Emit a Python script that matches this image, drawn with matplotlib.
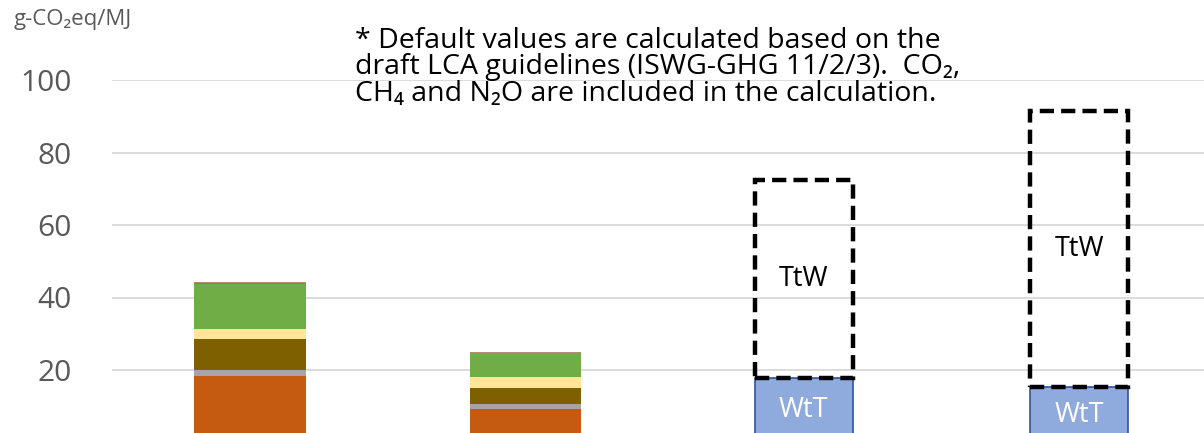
import matplotlib
matplotlib.use("Agg")
import matplotlib.pyplot as plt
import numpy as np

# ---- data ----
categories = ["Biofuel A", "Biofuel B", "Fuel C", "Fuel D"]
# stacked components for the first two bars (bottom -> top)
seg_orange = [18.4, 9.2]
seg_gray = [1.6, 1.5]
seg_brown = [8.5, 4.3]
seg_yellow = [2.7, 3.1]
seg_green = [12.5, 6.6]
seg_gray2 = [0.2, 0.1]
seg_top = [0.4, 0.3]
# WtT / TtW for the last two bars
wtt = [17.7, 15.4]
ttw = [54.7, 76.1]
yticks = [0, 20, 40, 60, 80, 100]
unit_label = "g-CO₂eq/MJ"
note = ("* Default values are calculated based on the\n"
        "draft LCA guidelines (ISWG-GHG 11/2/3).  CO₂,\n"
        "CH₄ and N₂O are included in the calculation.")

FONT = ["Open Sans", "DejaVu Sans"]
plt.rcParams["font.family"] = FONT

fig = plt.figure(figsize=(12.04, 4.33), dpi=100)
ax = fig.add_axes([112 / 1204, -9.5 / 433, 1 - 112 / 1204, 362.5 / 433])

x = np.arange(len(categories))
xa = x[:2]
xb = x[2:]

stack = [
    (seg_orange, "#c55a11"),
    (seg_gray, "#a5a5a5"),
    (seg_brown, "#7f6000"),
    (seg_yellow, "#ffe699"),
    (seg_green, "#70ad47"),
    (seg_gray2, "#7f7f7f"),
    (seg_top, "#b98a78"),
]
bottom = np.zeros(2)
for vals, col in stack:
    ax.bar(xa - 0.012, vals, bottom=bottom, width=0.405, color=col, zorder=3)
    bottom += np.array(vals)

ax.bar(xb, wtt, width=0.355, color="#8faadc", edgecolor="#2f5597",
       linewidth=1.2, zorder=3)
ax.bar(xb, ttw, bottom=wtt, width=0.355, facecolor="none", edgecolor="black",
       linewidth=3.2, linestyle=(0, (3.2, 1.6)), zorder=4)

for xi, w, t in zip(xb, wtt, ttw):
    ax.text(xi, w / 2, "WtT", ha="center", va="center", color="white",
            fontsize=19.5, zorder=5)
    ax.text(xi, w + t / 2, "TtW", ha="center", va="center", color="black",
            fontsize=19.5, zorder=5)

ax.set_ylim(0, 100)
ax.set_xlim(-0.514, 3.454)
ax.set_yticks(yticks)
ax.set_xticks([])
ax.tick_params(axis="y", length=0, pad=29, labelsize=21.5, labelcolor="#595959")
ax.grid(axis="y", color="#d9d9d9", linewidth=1.3, zorder=0)
for s in ax.spines.values():
    s.set_visible(False)

fig.text(14 / 1204, 1 - 19 / 433, unit_label, ha="left", va="center",
         fontsize=16, color="#595959", family=FONT)
fig.text(355 / 1204, 1 - 27 / 433, note, ha="left", va="top", fontsize=20.5,
         color="black", linespacing=0.92, family=FONT)

fig.savefig("out.png", dpi=100)
